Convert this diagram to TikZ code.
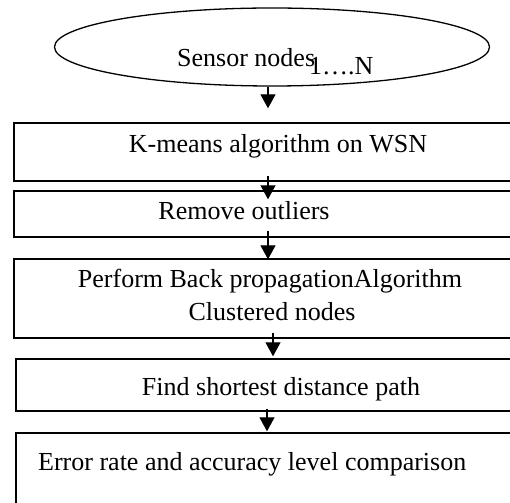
\documentclass[tikz,border=0pt]{standalone}
\usepackage{fontspec}
\setmainfont{Liberation Serif}
\usetikzlibrary{shapes.geometric,arrows.meta}
\begin{document}
\begin{tikzpicture}[x=1pt,y=-1pt,
  boxst/.style={draw,line width=1.4pt,rectangle,inner sep=0pt},
  txt/.style={font=\fontsize{26}{30}\selectfont,inner sep=0pt,anchor=base},
  arr/.style={line width=1.2pt,-{Triangle[width=15pt,length=14pt]}}]
\useasboundingbox[clip] (0,0) rectangle (510,502);
\fill[white] (0,0) rectangle (510,502);
\node[draw,line width=1.3pt,ellipse,minimum width=435pt,minimum height=78pt,inner sep=0pt] (e) at (272,47) {};
\node[txt,anchor=base west] (te) at (177,67) {Sensor nodes\kern-6pt\raisebox{-8pt}{1….N}};
\node[boxst,minimum width=506pt,minimum height=58pt] (b1) at (267,152) {};
\node[boxst,minimum width=506pt,minimum height=46pt] (b2) at (267,214) {};
\node[boxst,minimum width=506pt,minimum height=79pt] (b3) at (267,298.5) {};
\node[boxst,minimum width=504pt,minimum height=52pt] (b4) at (268,385) {};
\node[boxst,minimum width=504pt,minimum height=87pt] (b5) at (268,476.5) {};
\node[txt] (t1) at (278,153) {K-means algorithm on WSN};
\node[txt] (t2) at (244,220) {Remove outliers};
\node[txt] (t3a) at (270,287) {Perform Back propagationAlgorithm};
\node[txt] (t3b) at (272,320) {Clustered nodes};
\node[txt] (t4) at (281,395) {Find shortest distance path};
\node[txt,anchor=base west] (t5) at (38,470) {Error rate and accuracy level comparison};
\draw[arr] ([xshift=-4pt]e.south) -- ([xshift=1pt,yshift=14pt]b1.north);
\draw[arr] ([xshift=1pt,yshift=6pt]b1.south) -- ([xshift=1pt,yshift=-9pt]b2.north);
\draw[arr] ([xshift=1pt,yshift=7pt]b2.south) -- ([xshift=1pt,yshift=-1pt]b3.north);
\draw[arr] ([xshift=6pt,yshift=6pt]b3.south) -- ([xshift=5pt,yshift=2pt]b4.north);
\draw[arr] ([xshift=-1pt,yshift=3pt]b4.south) -- ([xshift=-1pt,yshift=1pt]b5.north);
\end{tikzpicture}
\end{document}
